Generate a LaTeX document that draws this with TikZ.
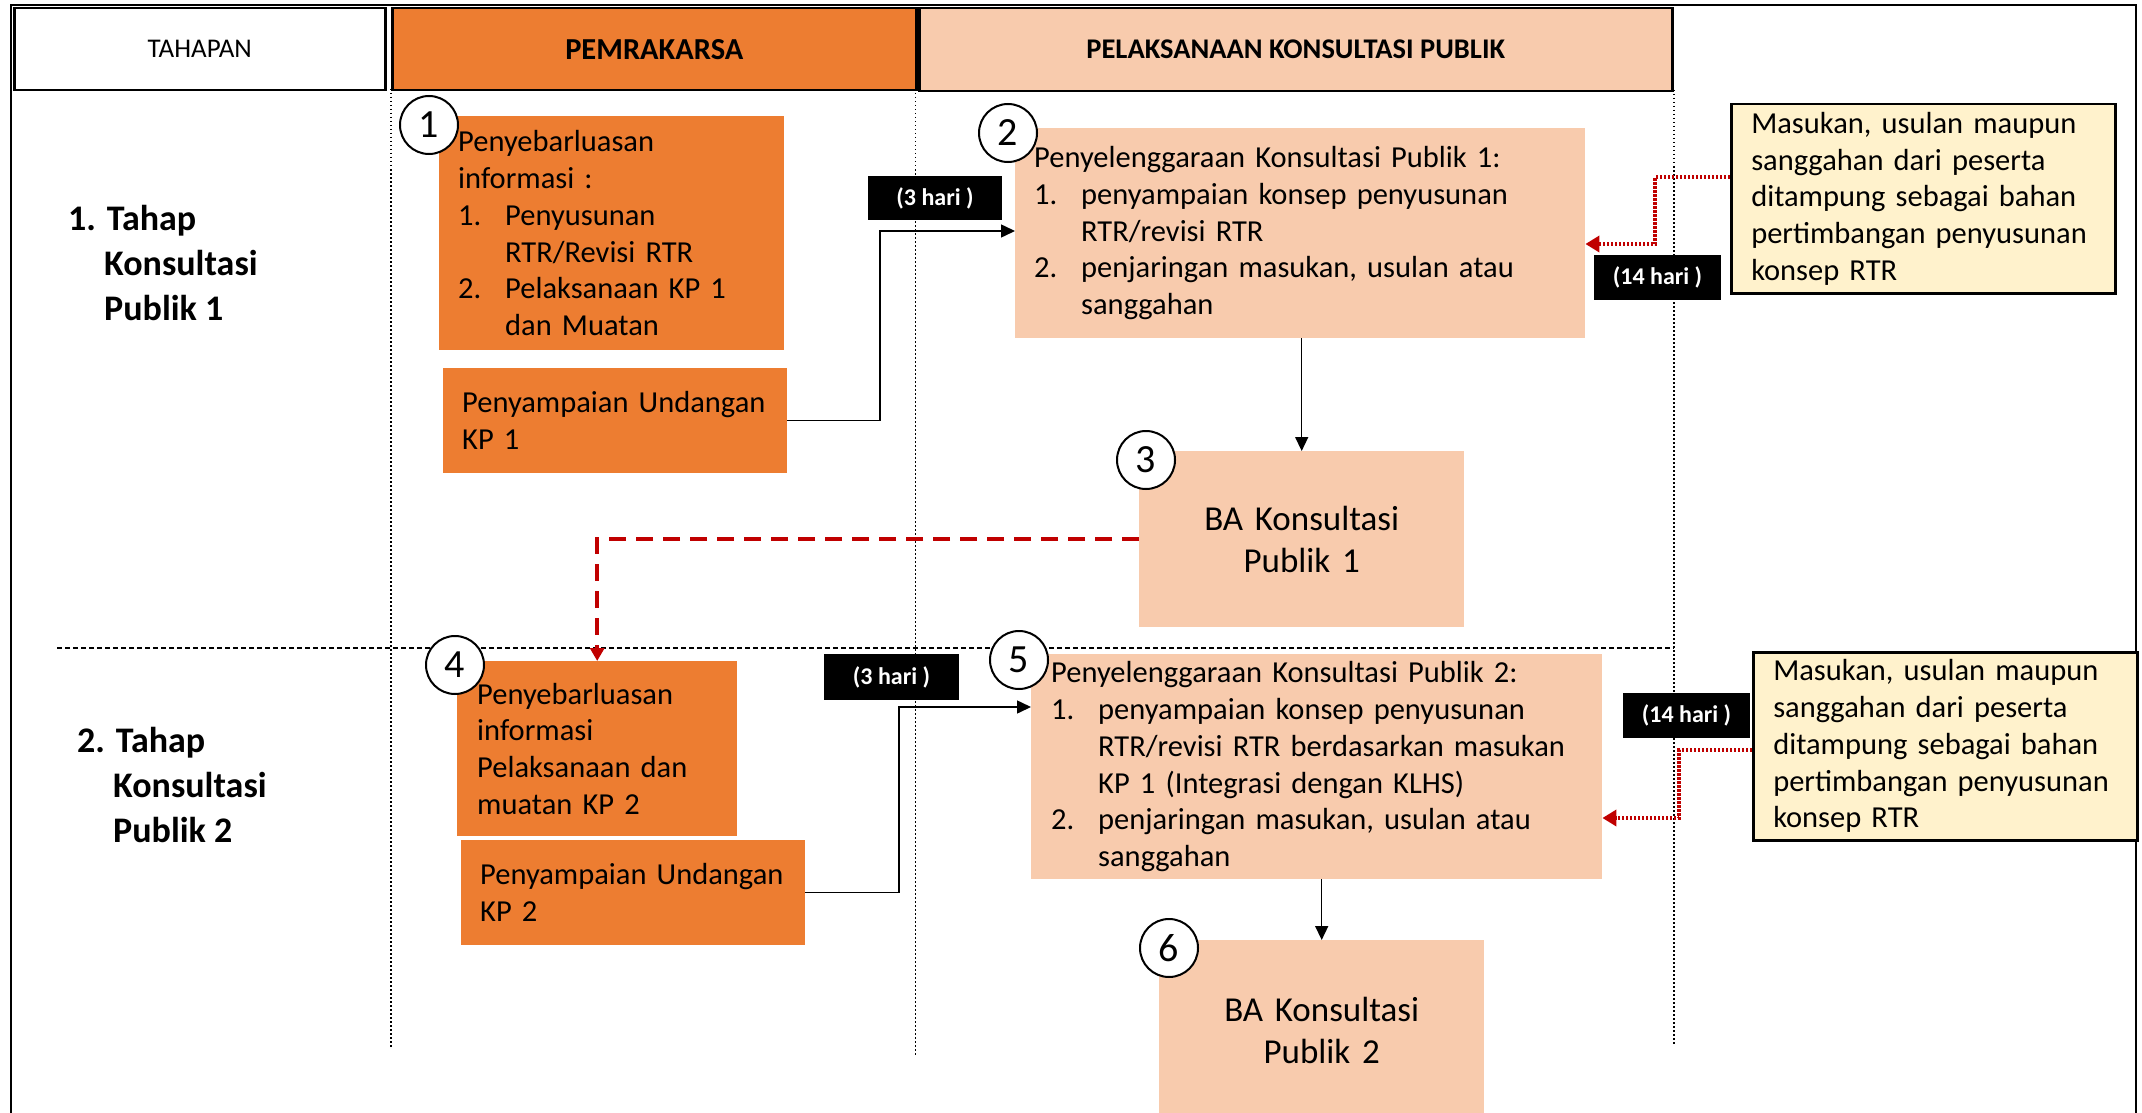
\documentclass[tikz,border=0pt]{standalone}
\usepackage{fontspec}
\setmainfont{Carlito}
\usetikzlibrary{arrows.meta}

\definecolor{orng}{HTML}{ED7D31}
\definecolor{peach}{HTML}{F8CBAD}
\definecolor{ylw}{HTML}{FFF2CC}
\definecolor{darkred}{HTML}{C00000}

\newcommand\bodyfont{\fontsize{30.5}{36.7}\selectfont}
\newcommand\itm[2]{\makebox[47pt][l]{#1}#2}
\newcommand\cont[1]{\hspace*{47pt}#1}

\begin{document}
\begin{tikzpicture}[x=1pt,y=-1pt,
  cell/.style={anchor=north west, inner xsep=19pt, inner ysep=0pt,
    align=left, font=\bodyfont, draw=none},
  orangecell/.style={cell, fill=orng},
  peachcell/.style={cell, fill=peach},
  notecell/.style={cell, inner xsep=20pt, fill=ylw, draw=black, line width=2.5pt},
  headcell/.style={anchor=north west, draw=black, line width=2.5pt, inner sep=0pt},
  num/.style={circle, draw=black, fill=white, line width=2pt, minimum size=58pt,
    inner sep=0pt, font=\fontsize{40}{48}\selectfont},
  days/.style={fill=black, text=white, inner sep=0pt,
    font=\fontsize{24}{28}\selectfont\bfseries},
  stage/.style={anchor=west, align=left, inner sep=0pt,
    font=\fontsize{36}{45}\selectfont\bfseries},
  lane/.style={line width=1.5pt, dash pattern=on 1.5pt off 2.5pt},
  arr/.style={line width=1.5pt, -{Triangle[length=14pt,width=13pt]}},
  reddot/.style={draw=darkred, line width=3.5pt, dash pattern=on 2.5pt off 1.5pt,
    -{Triangle[length=14pt,width=16pt]}},
  reddash/.style={draw=darkred, line width=4pt, dash pattern=on 17pt off 10pt,
    -{Triangle[length=13pt,width=14pt]}}
]
\useasboundingbox (0,0) rectangle (2142,1113);
\clip (0,0) rectangle (2142,1113);

% outer frame
\draw[line width=1.5pt] (11,1113) -- (11,5) -- (2136,5) -- (2136,1113);

% lane boundaries and stage separator
\draw[lane] (391,89) -- (391,1049);
\draw[lane] (915.5,89) -- (915.5,1055);
\draw[lane] (1674,90) -- (1674,1046);
\draw[line width=2pt, dash pattern=on 5pt off 3pt] (57,648) -- (1674,648);

% header row
\node[headcell, fill=white, minimum width=371pt, minimum height=82pt,
  font=\fontsize{27}{32}\selectfont] (h0) at (13,7) {TAHAPAN};
\node[headcell, fill=orng, minimum width=524pt, minimum height=82pt,
  font=\fontsize{30.5}{36}\selectfont\bfseries] (h1) at (391,7) {PEMRAKARSA};
\node[headcell, fill=peach, minimum width=753pt, minimum height=83pt,
  font=\fontsize{28.5}{34}\selectfont\bfseries] (h2) at (918,7) {PELAKSANAAN KONSULTASI PUBLIK};

% stage labels
\node[stage] (s1) at (68,263) {1. Tahap\\\hspace*{36pt}Konsultasi\\\hspace*{36pt}Publik 1};
\node[stage] (s2) at (77,785) {2. Tahap\\\hspace*{36pt}Konsultasi\\\hspace*{36pt}Publik 2};

% stage 1 boxes
\node[orangecell, minimum width=345pt, minimum height=234pt, text width=307pt] (b1) at (439,116)
  {Penyebarluasan\\informasi :\\\itm{1.}{Penyusunan}\\\cont{RTR/Revisi RTR}\\\itm{2.}{Pelaksanaan KP 1}\\\cont{dan Muatan}};
\node[orangecell, minimum width=344pt, minimum height=105pt, text width=306pt] (u1) at (443,368)
  {\mbox{Penyampaian Undangan}\\KP 1};
\node[peachcell, minimum width=570pt, minimum height=210pt, text width=532pt] (b2) at (1015,128)
  {\mbox{Penyelenggaraan Konsultasi Publik 1:}\\\itm{1.}{penyampaian konsep penyusunan}\\\cont{RTR/revisi RTR}\\\itm{2.}{\mbox{penjaringan masukan, usulan atau}}\\\cont{sanggahan}};
\node[peachcell, align=center, font=\fontsize{35}{42}\selectfont,
  minimum width=325pt, minimum height=176pt, text width=287pt] (b3) at (1139,451)
  {BA Konsultasi\\Publik 1};
\node[notecell, minimum width=384pt, minimum height=189pt, text width=344pt] (y1) at (1730,103)
  {\mbox{Masukan, usulan maupun}\\\mbox{sanggahan dari peserta}\\\mbox{ditampung sebagai bahan}\\\mbox{pertimbangan penyusunan}\\konsep RTR};

% stage 2 boxes
\node[orangecell, inner xsep=20pt, minimum width=280pt, minimum height=175pt, text width=240pt] (b4) at (457,661)
  {Penyebarluasan\\informasi\\\mbox{Pelaksanaan dan}\\muatan KP 2};
\node[orangecell, minimum width=344pt, minimum height=105pt, text width=306pt] (u2) at (461,840)
  {\mbox{Penyampaian Undangan}\\KP 2};
\node[peachcell, inner xsep=20pt, minimum width=571pt, minimum height=225pt, text width=531pt] (b5) at (1031,654)
  {\mbox{Penyelenggaraan Konsultasi Publik 2:}\\\itm{1.}{\mbox{penyampaian konsep penyusunan}}\\\cont{\mbox{RTR/revisi RTR berdasarkan masukan}}\\\cont{KP 1 (Integrasi dengan KLHS)}\\\itm{2.}{\mbox{penjaringan masukan, usulan atau}}\\\cont{sanggahan}};
\node[peachcell, align=center, font=\fontsize{35}{42}\selectfont,
  minimum width=325pt, minimum height=180pt, text width=287pt] (b6) at (1159,940)
  {BA Konsultasi\\Publik 2};
\node[notecell, minimum width=384pt, minimum height=188pt, text width=344pt] (y2) at (1752,651)
  {\mbox{Masukan, usulan maupun}\\\mbox{sanggahan dari peserta}\\\mbox{ditampung sebagai bahan}\\\mbox{pertimbangan penyusunan}\\konsep RTR};

% bend points of the connectors
\coordinate (k1) at (880,231);
\coordinate (k2) at (1655,177);
\coordinate (k3) at (1655,244);
\coordinate (k4) at (899,707);
\coordinate (k5) at (1679,750);
\coordinate (k6) at (1679,818);

% connectors
\draw[arr] (u1.east) -| (k1) -- (b2.west |- k1);
\draw[arr] (b2.south -| b3.north) -- (b3.north);
\draw[reddash] (b3.west) -| (b4.north);
\draw[reddot] (y1.west |- k2) -- (k2) -- (k3) -- (b2.east |- k3);
\draw[arr] (u2.east) -| (k4) -- (b5.west |- k4);
\draw[arr] (b5.south -| b6.north) -- (b6.north);
\draw[reddot] (y2.west |- k5) -- (k5) -- (k6) -- (b5.east |- k6);

% duration tags
\node[days, minimum width=134pt, minimum height=44pt] (d1) at (935,198) {(3 hari )};
\node[days, minimum width=127pt, minimum height=45pt] (d2) at (1657.5,277.5) {(14 hari )};
\node[days, minimum width=135pt, minimum height=46pt] (d3) at (891.5,677) {(3 hari )};
\node[days, minimum width=127pt, minimum height=45pt] (d4) at (1686.5,715.5) {(14 hari )};

% step numbers
\node[num] (n1) at (429,125) {1};
\node[num] (n2) at (1008,133) {2};
\node[num] (n3) at (1146,460) {3};
\node[num] (n4) at (455,665) {4};
\node[num] (n5) at (1019,660) {5};
\node[num] (n6) at (1169,948) {6};
\end{tikzpicture}
\end{document}
